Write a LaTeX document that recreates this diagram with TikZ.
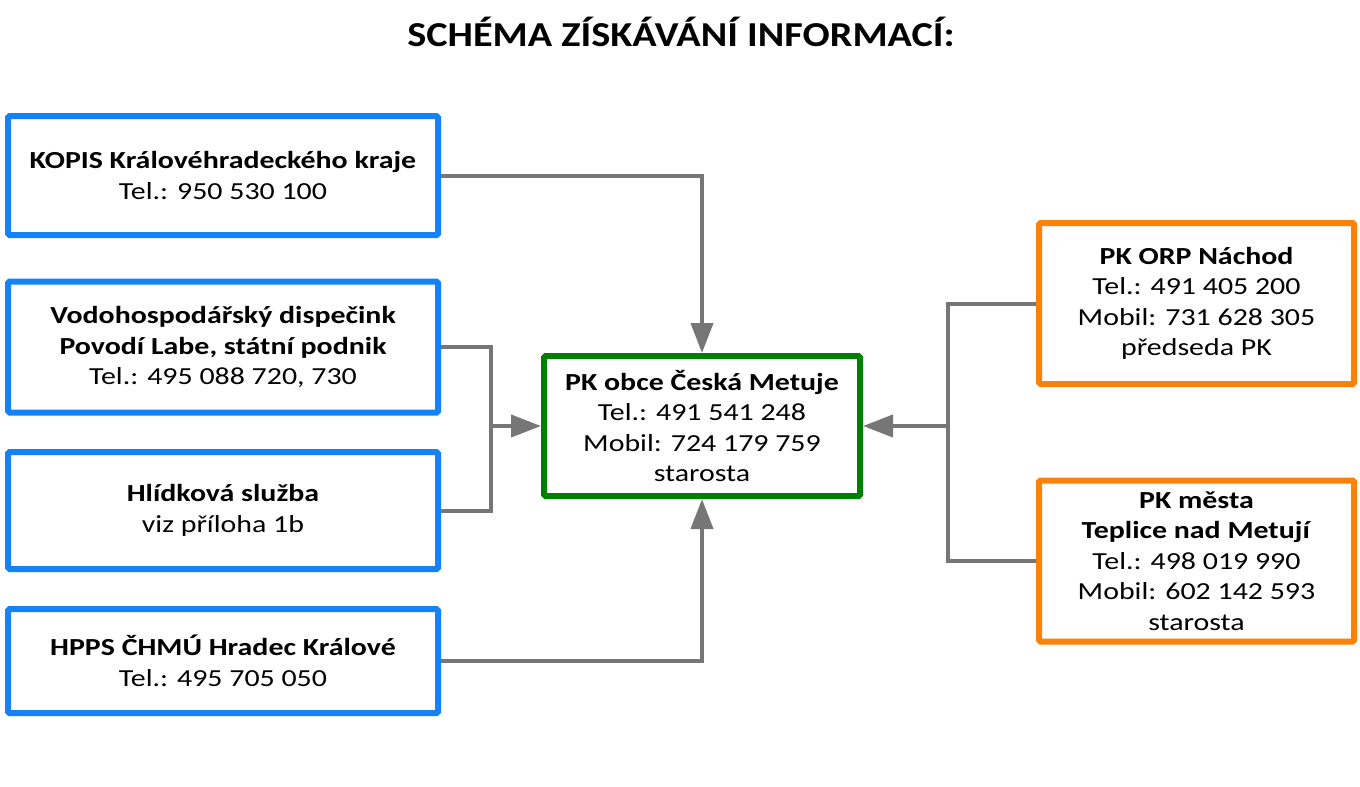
\documentclass[tikz,border=0pt]{standalone}
\usepackage{fontspec}
\setmainfont{Carlito}[FakeStretch=1.22]
\newfontfamily\titlefont{Carlito}[FakeStretch=1.15]
\usetikzlibrary{arrows.meta}
\definecolor{bluebox}{RGB}{20,130,250}
\definecolor{greenbox}{RGB}{0,128,0}
\definecolor{orangebox}{RGB}{250,130,10}
\definecolor{conncol}{RGB}{118,118,118}
\tikzset{
  box/.style={draw, line width=6pt, rounded corners=1.5pt, fill=white, align=center,
    inner sep=0pt, font=\fontsize{24.5}{30.5}\selectfont},
  bluestyle/.style={box, draw=bluebox, minimum width=430pt},
  greenstyle/.style={box, draw=greenbox, minimum width=316pt, minimum height=140pt},
  orangestyle/.style={box, draw=orangebox, minimum width=315pt, minimum height=161pt},
  conn/.style={draw=conncol, line width=4pt, line join=miter},
  arr/.style={conn, -{Triangle[length=30pt,width=22pt]}},
}
\begin{document}
\begin{tikzpicture}[x=1pt,y=-1pt]
\useasboundingbox (0,0) rectangle (1360,787);
\node (title) at (681,32) {\titlefont\fontsize{35}{40}\selectfont\bfseries SCHÉMA ZÍSKÁVÁNÍ INFORMACÍ:};

\node[bluestyle, minimum height=119pt] (kopis) at (223,175.5) {\textbf{KOPIS Královéhradeckého kraje}\\Tel.: 950 530 100};
\node[bluestyle, minimum height=131pt] (vodo) at (223,347) {\textbf{Vodohospodářský dispečink}\\\textbf{Povodí Labe, státní podnik}\\Tel.: 495 088 720, 730};
\node[bluestyle, minimum height=117pt] (hlid) at (223,510.5) {\textbf{Hlídková služba}\\viz příloha 1b};
\node[bluestyle, minimum height=104pt] (hpps) at (223,661) {\textbf{HPPS ČHMÚ Hradec Králové}\\Tel.: 495 705 050};

\node[greenstyle] (green) at (702,426) {\textbf{PK obce Česká Metuje}\\Tel.: 491 541 248\\Mobil: 724 179 759\\starosta};

\node[orangestyle] (orp) at (1196.5,303.5) {\textbf{PK ORP Náchod}\\Tel.: 491 405 200\\Mobil: 731 628 305\\předseda PK};
\node[orangestyle] (mesta) at (1196.5,561) {\textbf{PK města}\\\textbf{Teplice nad Metují}\\Tel.: 498 019 990\\Mobil: 602 142 593\\starosta};

\coordinate (jl) at (491,426);
\coordinate (jr) at (948,426);

\draw[arr] (kopis.east) -| (green.north);
\draw[arr] (hpps.east) -| (green.south);
\draw[conn] (vodo.east) -| (jl) |- (hlid.east);
\draw[arr] (jl) -- (green.west);
\draw[conn] (orp.west) -| (jr) |- (mesta.west);
\draw[arr] (jr) -- (green.east);
\end{tikzpicture}
\end{document}
